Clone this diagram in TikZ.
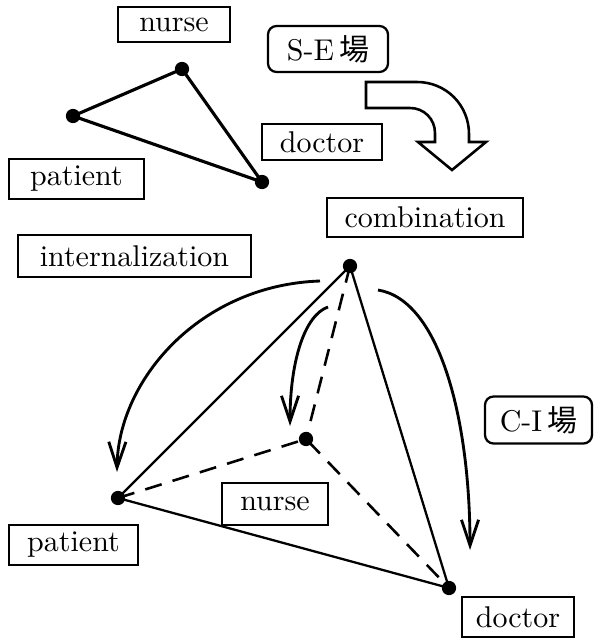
\documentclass[tikz,border=0pt]{standalone}
\usepackage{fontspec}
\newfontfamily\cjk{Noto Sans CJK JP}
\usepackage{tikz}
\usetikzlibrary{arrows.meta,calc,positioning}
\tikzset{>={Straight Barb[length=9pt,width=6pt]}}
\tikzset{
  lbl/.style={draw=black, line width=0.8pt, rectangle, inner sep=0pt, font=\fontsize{10.5}{12}\selectfont},
  fld/.style={lbl, rounded corners=3pt},
  dot/.style={circle, fill=black, inner sep=0pt, minimum size=5pt},
}

\begin{document}
\begin{tikzpicture}[x=0.35pt,y=-0.35pt]
            \useasboundingbox (0,0) rectangle (594,638);

            % upper triangle (S-E)
            \node[dot] (nA) at (182,69) {};
            \node[dot] (pA) at (73,116) {};
            \node[dot] (dA) at (262,182) {};
            \draw[line width=1.1pt] (pA.center) -- (nA.center) -- (dA.center) -- cycle;

            \node[lbl, minimum width=39.2pt, minimum height=12.25pt] (nurseA) at (174,24.5) {nurse};
            \node[lbl, minimum width=42pt, minimum height=12.6pt] (doctorA) at (322,142) {doctor};
            \node[lbl, minimum width=47.25pt, minimum height=14pt] (patientA) at (76.5,179) {patient};
            \node[fld, minimum width=42pt, minimum height=16.1pt] (seBox) at (328,49) {S-E\,{\cjk 場}};

            % turn arrow
            \draw[line width=0.9pt, fill=white] (366,82) -- (417,82) .. controls (446,82) and (469,105) .. (469,134)
                -- (469,142) -- (486,142) -- (452,170) -- (418,142) -- (435,142) -- (435,133)
                .. controls (435,119) and (424,108) .. (410,108) -- (366,108) -- cycle;

            % lower tetrahedron (C-I)
            \node[dot] (C) at (350,266) {};
            \node[dot] (N) at (306,439) {};
            \node[dot] (P) at (118,498) {};
            \node[dot] (D) at (449,588) {};
            \draw[line width=0.8pt] (C.center) -- (P.center) -- (D.center) -- cycle;
            \draw[line width=0.9pt, dashed, dash pattern=on 6pt off 4pt] (C.center) -- (N.center) (P.center) -- (N.center) -- (D.center);

            \node[lbl, minimum width=68.6pt, minimum height=13.65pt] (combBox) at (425,217.5) {combination};
            \node[lbl, minimum width=81.55pt, minimum height=14.7pt] (interBox) at (134.5,256) {internalization};
            \node[fld, minimum width=37.45pt, minimum height=16.45pt] (ciBox) at (538.5,420) {C-I\,{\cjk 場}};
            \node[lbl, minimum width=37.1pt, minimum height=14.7pt] (nurseB) at (275,504) {nurse};
            \node[lbl, minimum width=45.15pt, minimum height=14pt] (patientB) at (73.5,545) {patient};
            \node[lbl, minimum width=39.2pt, minimum height=14pt] (doctorB) at (518,617) {doctor};

            % internalization arrows
            \coordinate (a1) at (320,281);
            \coordinate (b1) at (117,472);
            \coordinate (a2) at (328,307);
            \coordinate (b2) at (290,426);
            \coordinate (a3) at (378,290);
            \coordinate (b3) at (470,550);
            \draw[->, line width=1pt] (a1) .. controls (200,285) and (118,380) .. (b1);
            \draw[->, line width=1pt] (a2) .. controls (305,315) and (290,360) .. (b2);
            \draw[->, line width=1pt] (a3) .. controls (440,300) and (470,420) .. (b3);
\end{tikzpicture}
\end{document}
